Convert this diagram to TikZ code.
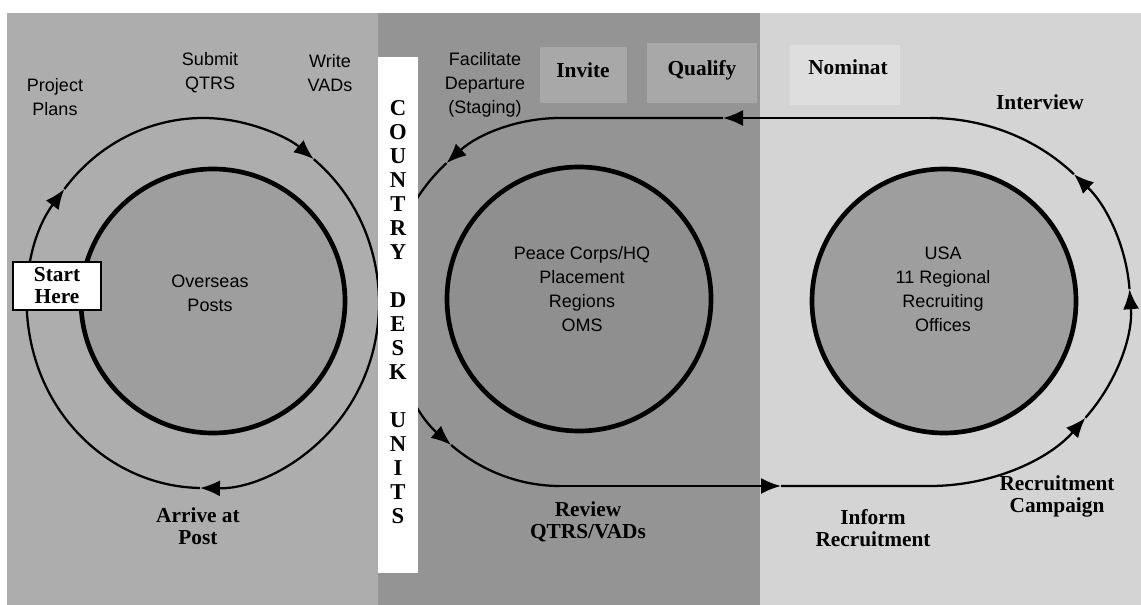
\documentclass[tikz,border=0pt]{standalone}
\usepackage{fontspec}
\setmainfont{Liberation Serif}
\newfontfamily\sansf{Liberation Sans}
\usetikzlibrary{arrows.meta}
\begin{document}
\begin{tikzpicture}[x=0.75pt,y=0.75pt,
  sanslabel/.style={font=\sansf\fontsize{13.5}{18}\selectfont, align=center, inner sep=0pt},
  boldlabel/.style={font=\bfseries\fontsize{16}{16.5}\selectfont, align=center, inner sep=0pt},
  hub/.style={circle, draw=black, line width=3.5pt, minimum size=198pt, inner sep=0pt},
  flow/.style={line width=1.7pt},
  tipped/.style={flow, -{Latex[length=15pt,width=12pt]}},
  startbox/.style={draw=black, fill=white, line width=1.2pt, minimum width=66pt, minimum height=36pt, inner sep=0pt, align=center, font=\bfseries\fontsize{16}{16.5}\selectfont}
]
\useasboundingbox (0,0) rectangle (1141,-605);
% backgrounds
\fill[black!32] (7,-13) rectangle (378,-605);
\fill[black!42] (378,-13) rectangle (760,-605);
\fill[black!17] (760,-13) rectangle (1141,-605);
\fill[black!34] (540,-47) rectangle (627,-103);
\fill[black!34] (647,-43) rectangle (757,-103);
\fill[black!13] (790,-45) rectangle (900,-105);
% hub circles
\node[hub, fill=black!38] (posts) at (213,-301) {};
\node[hub, fill=black!44] (hq) at (579,-299) {};
\node[hub, fill=black!38] (usa) at (944,-301) {};
% left loop (clockwise)
\draw[tipped] (203,-303) ++(200:176 and 185) arc[start angle=200, end angle=142, x radius=176, y radius=185];
\draw[tipped] (203,-303) ++(142:176 and 185) arc[start angle=142, end angle=51, x radius=176, y radius=185];
\draw[tipped] (203,-303) ++(51:176 and 185) arc[start angle=51, end angle=-91, x radius=176, y radius=185];
\draw[flow] (203,-303) ++(-91:176 and 185) arc[start angle=-91, end angle=-160, x radius=176, y radius=185];
% racetrack (counter-clockwise)
\coordinate (tr) at (930,-118);
\coordinate (tl) at (560,-118);
\coordinate (bl) at (560,-486);
\coordinate (br) at (930,-486);
\coordinate (ta) at (723,-118);
\coordinate (ba) at (781,-486);
\draw[tipped] (tr) -- (ta);
\draw[tipped] (ta) -- (tl) arc[start angle=90, end angle=131, x radius=173, y radius=184];
\draw[tipped] (560,-302) ++(131:173 and 184) arc[start angle=131, end angle=231, x radius=173, y radius=184];
\draw[flow] (560,-302) ++(231:173 and 184) arc[start angle=231, end angle=270, x radius=173, y radius=184];
\draw[tipped] (bl) -- (ba);
\draw[tipped] (ba) -- (br) arc[start angle=-90, end angle=-39, x radius=200, y radius=184];
\draw[tipped] (930,-302) ++(-39:200 and 184) arc[start angle=-39, end angle=4, x radius=200, y radius=184];
\draw[tipped] (930,-302) ++(4:200 and 184) arc[start angle=4, end angle=44, x radius=200, y radius=184];
\draw[flow] (930,-302) ++(44:200 and 184) arc[start angle=44, end angle=90, x radius=200, y radius=184];
% white column
\fill[white] (378,-57) rectangle (418,-573);
\node[font=\bfseries\fontsize{17}{18}\selectfont, align=center, inner sep=0pt] (desk) at (398,-312)
  {C\\O\\U\\N\\T\\R\\Y\\\mbox{}\\D\\E\\S\\K\\\mbox{}\\U\\N\\I\\T\\S};
% labels
\node[sanslabel] (proj) at (55,-97) {Project\\Plans};
\node[sanslabel] (submit) at (210,-73) {Submit\\QTRS};
\node[sanslabel] (write) at (330,-73) {Write\\VADs};
\node[sanslabel] (facil) at (485,-85) {Facilitate\\Departure\\(Staging)};
\node[boldlabel] (invite) at (583,-70) {Invite};
\node[boldlabel] (qualify) at (702,-70) {Qualify};
\node[boldlabel] (nominat) at (848,-67) {Nominat};
\node[boldlabel] (interview) at (1040,-102) {Interview};
\node[sanslabel] (overseas) at (210,-293) {Overseas\\Posts};
\node[sanslabel] (pchqtext) at (582,-289) {Peace Corps/HQ\\Placement\\Regions\\OMS};
\node[sanslabel] (usatext) at (943,-289) {USA\\11 Regional\\Recruiting\\Offices};
\node[boldlabel] (arrive) at (198,-526) {Arrive at\\Post};
\node[boldlabel] (review) at (588,-522) {Review\\QTRS/VADs};
\node[boldlabel] (inform) at (873,-528) {Inform\\Recruitment};
\node[boldlabel] (campaign) at (1057,-496) {Recruitment\\Campaign};
\node[startbox] (start) at (57,-286) {Start\\Here};
\end{tikzpicture}
\end{document}
